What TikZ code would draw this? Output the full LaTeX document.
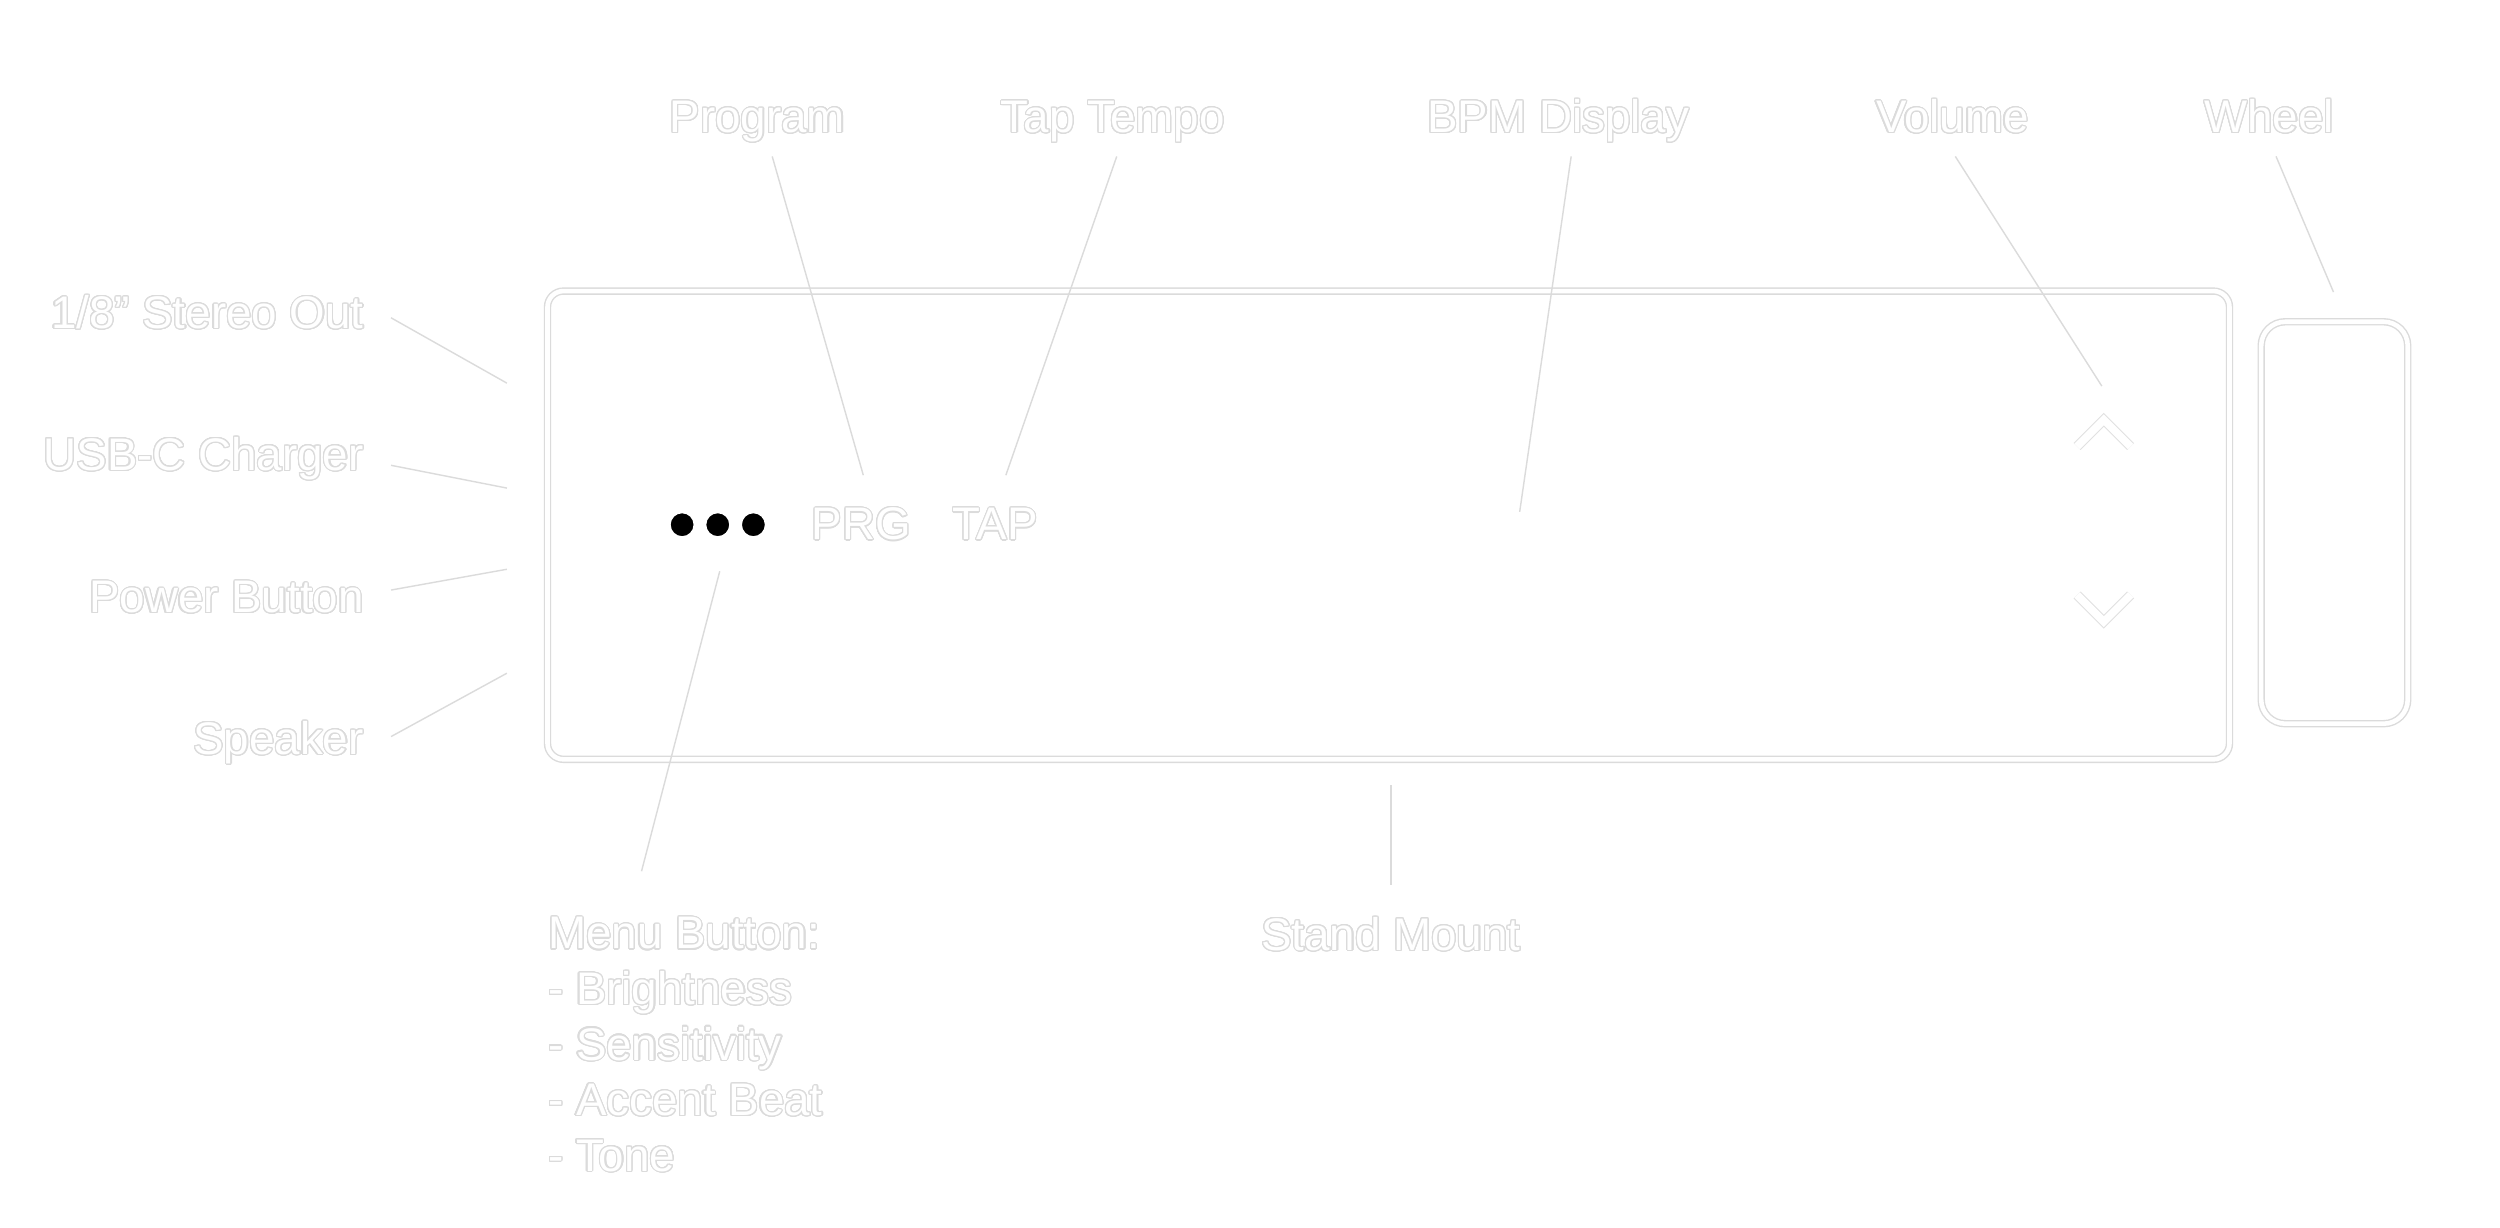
\documentclass[tikz,border=0pt]{standalone}
\usepackage{fontspec}
\setmainfont{Liberation Sans}
\usepackage{contour}
\contourlength{0.33pt}
\contournumber{24}
\definecolor{edge}{gray}{0.86}
\newcommand\outl[1]{\contour{edge}{#1}}
\tikzset{
  lbl/.style={font=\fontsize{13}{16}\selectfont, inner sep=0pt, text=white},
  lead/.style={draw=edge, line width=0.4pt},
  body/.style={draw=edge, double=white, double distance=1.3pt, line width=0.4pt},
  chev/.style={draw=edge!85, double=white, double distance=2.2pt, line width=0.3pt, line join=miter},
  dot/.style={circle, fill=black, draw=white, line width=0.6pt, minimum size=0.25cm, inner sep=0pt}
}
\begin{document}
\begin{tikzpicture}[x=0.01cm, y=-0.01cm]
\useasboundingbox (0,0) rectangle (2500,1227);
\fill[white] (0,0) rectangle (2500,1227);
\begin{scope}[scale=0.99]
% device body and wheel
\draw[body, rounded corners=0.16cm] (553,294) rectangle (2252,767);
\draw[body, rounded corners=0.24cm] (2284,325) rectangle (2432,731);
% menu dots
\node[dot] (d1) at (689,530) {};
\node[dot] (d2) at (725,530) {};
\node[dot] (d3) at (761,530) {};
\node[lbl] (prg) at (870,530) {\outl{PRG}};
\node[lbl] (tap) at (1005,530) {\outl{TAP}};
% volume chevrons
\draw[chev] (2098,451) -- (2125,424) -- (2152,451);
\draw[chev] (2098,601) -- (2125,628) -- (2152,601);
% left labels
\node[lbl, anchor=base east] (stereo) at (368,332) {\outl{1/8" Stereo Out}};
\node[lbl, anchor=base east] (usb) at (368,475) {\outl{USB-C Charger}};
\node[lbl, anchor=base east] (power) at (368,619) {\outl{Power Button}};
\node[lbl, anchor=base east] (speaker) at (368,762) {\outl{Speaker}};
% top labels
\node[lbl, anchor=base] (program) at (765,134) {\outl{Program}};
\node[lbl, anchor=base] (taptempo) at (1124,134) {\outl{Tap Tempo}};
\node[lbl, anchor=base] (bpm) at (1574,134) {\outl{BPM Display}};
\node[lbl, anchor=base] (volume) at (1972,134) {\outl{Volume}};
\node[lbl, anchor=base] (wheel) at (2292,134) {\outl{Wheel}};
% bottom labels
\node[lbl, anchor=north west, align=left, font=\fontsize{13}{15.8}\selectfont] (menu) at (553,926)
  {\outl{Menu Button:}\\\outl{- Brightness}\\\outl{- Sensitivity}\\\outl{- Accent Beat}\\\outl{- Tone}};
\node[lbl] (stand) at (1405,944) {\outl{Stand Mount}};
% leader coordinates
\coordinate (a1) at (395,321); \coordinate (b1) at (512,387);
\coordinate (a2) at (395,470); \coordinate (b2) at (512,493);
\coordinate (a3) at (395,596); \coordinate (b3) at (512,575);
\coordinate (a4) at (395,744); \coordinate (b4) at (512,680);
\coordinate (t1) at (780,158);  \coordinate (u1) at (872,480);
\coordinate (t2) at (1128,158); \coordinate (u2) at (1016,480);
\coordinate (t3) at (1587,158); \coordinate (u3) at (1535,517);
\coordinate (t4) at (1975,158); \coordinate (u4) at (2123,390);
\coordinate (t5) at (2299,158); \coordinate (u5) at (2357,295);
\coordinate (m1) at (727,577);  \coordinate (m2) at (648,880);
\coordinate (s1) at (1405,793); \coordinate (s2) at (1405,894);
\draw[lead] (a1) -- (b1);
\draw[lead] (a2) -- (b2);
\draw[lead] (a3) -- (b3);
\draw[lead] (a4) -- (b4);
\draw[lead] (t1) -- (u1);
\draw[lead] (t2) -- (u2);
\draw[lead] (t3) -- (u3);
\draw[lead] (t4) -- (u4);
\draw[lead] (t5) -- (u5);
\draw[lead] (m1) -- (m2);
\draw[lead] (s1) -- (s2);
\end{scope}
\end{tikzpicture}
\end{document}
